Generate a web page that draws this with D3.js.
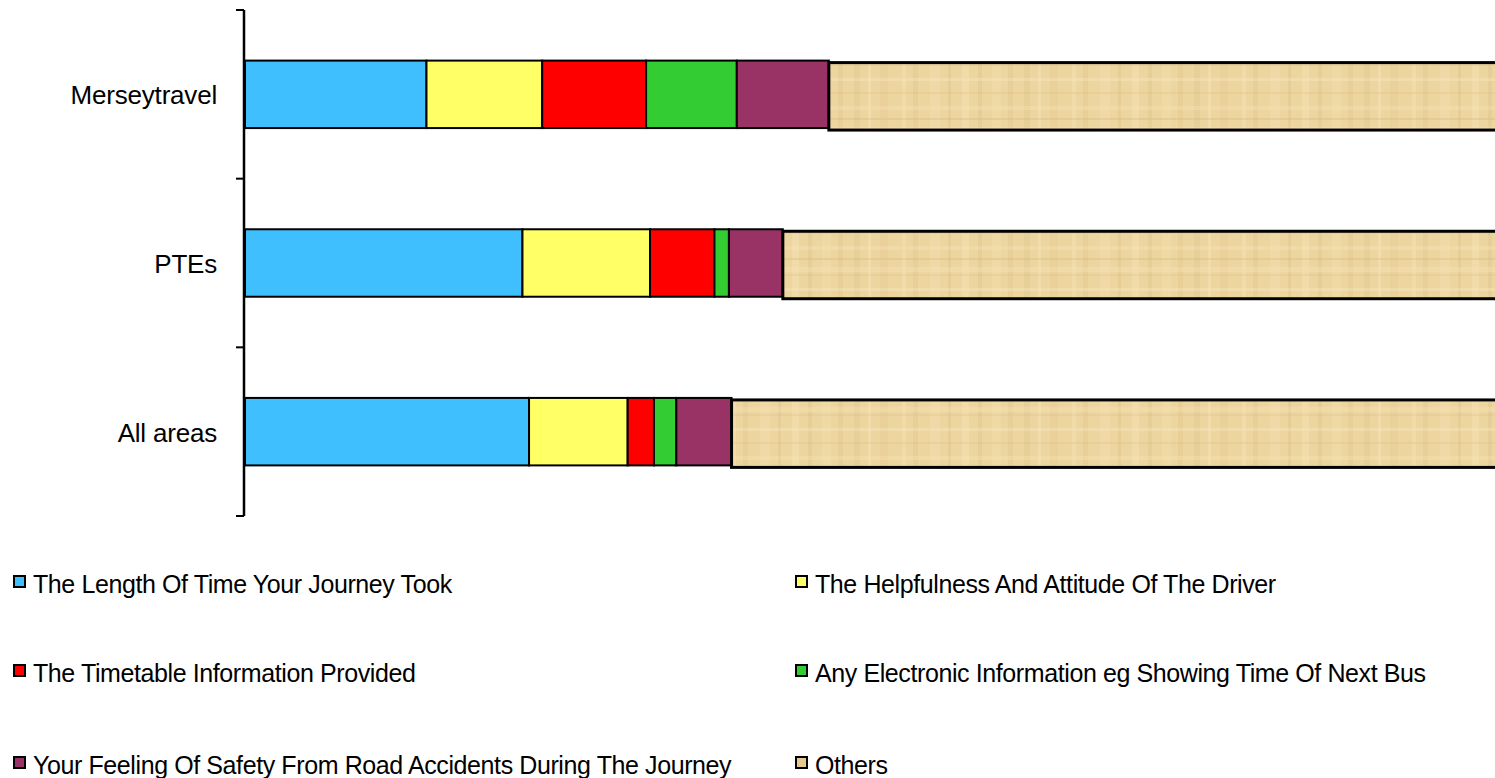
<!DOCTYPE html>
<html>
<head>
<meta charset="utf-8">
<script src="https://cdn.jsdelivr.net/npm/d3@7"></script>
<style>
  html, body { margin: 0; padding: 0; background: #fff; }
  svg { display: block; font-family: "Liberation Sans", Arial, sans-serif; }
</style>
</head>
<body>
<svg id="chart" width="1495" height="778"></svg>
<script>
// ---- data ----
const categories = ["Merseytravel", "PTEs", "All areas"];
const seriesNames = [
  "The Length Of Time Your Journey Took",
  "The Helpfulness And Attitude Of The Driver",
  "The Timetable Information Provided",
  "Any Electronic Information eg Showing Time Of Next Bus",
  "Your Feeling Of Safety From Road Accidents During The Journey",
  "Others"
];
const lengthOfTime   = [13.8, 21.1, 21.6];
const helpfulness    = [8.8, 9.7, 7.5];
const timetable      = [7.9, 4.9, 2.0];
const electronic     = [6.9, 1.1, 1.7];
const safety         = [7.0, 4.1, 4.2];
const others         = [55.6, 59.1, 63.0];
const seriesValues = [lengthOfTime, helpfulness, timetable, electronic, safety, others];
const seriesColors = ["#40BFFF", "#FFFF66", "#FF0000", "#33CC33", "#993366", "url(#papyrus)"];
const legendSwatch = ["#40BFFF", "#FFFF66", "#FF0000", "#33CC33", "#993366", "#E6C98F"];

// ---- layout ----
const svg = d3.select("#chart");
const plotLeft = 245, plotTop = 10, plotBottom = 516;

const x = d3.scaleLinear().domain([0, 100]).range([plotLeft, 1560]);
const y = d3.scaleBand().domain(categories).range([plotTop, plotBottom])
  .paddingInner(0.6).paddingOuter(0.3);

// papyrus-like texture (decorative)
const defs = svg.append("defs");
const pat = defs.append("pattern").attr("id", "papyrus")
  .attr("patternUnits", "userSpaceOnUse").attr("width", 170).attr("height", 70);
pat.append("rect").attr("width", 170).attr("height", 70).attr("fill", "#EDD5A0");
const vStripes = [[4,6,"#DCC08A",0.3],[18,3,"#F7E4B6",0.5],[30,8,"#DEC28C",0.25],[52,4,"#F5E2B3",0.45],
  [63,5,"#D8BB82",0.25],[80,10,"#F4DFAE",0.4],[98,3,"#D9BC84",0.3],[112,7,"#F6E3B5",0.45],
  [128,4,"#DABE86",0.3],[142,9,"#F3DEAC",0.4],[158,5,"#D8BA80",0.25]];
vStripes.forEach(s => pat.append("rect").attr("x", s[0]).attr("y", 0).attr("width", s[1])
  .attr("height", 70).attr("fill", s[2]).attr("opacity", s[3]));
const hStripes = [[8,3,"#F8E7BC",0.4],[22,2,"#D6B97F",0.25],[36,4,"#F6E3B4",0.35],[48,2,"#D3B47A",0.3],
  [57,5,"#F5E1B1",0.4],[64,2,"#D9BC84",0.25]];
hStripes.forEach(s => pat.append("rect").attr("x", 0).attr("y", s[0]).attr("width", 170)
  .attr("height", s[1]).attr("fill", s[2]).attr("opacity", s[3]));

// stacked data
const rows = categories.map((c, i) => {
  const o = { category: c };
  seriesNames.forEach((s, j) => o[s] = seriesValues[j][i]);
  return o;
});
const stacked = d3.stack().keys(seriesNames)(rows);

const groups = svg.append("g").selectAll("g").data(stacked).join("g")
  .attr("fill", (d, i) => seriesColors[i]);
groups.each(function(series, si) {
  const isOthers = si === seriesNames.length - 1;
  d3.select(this).selectAll("rect").data(series).join("rect")
    .attr("x", d => x(d[0]))
    .attr("y", d => y(d.data.category) + (isOthers ? 2 : 0))
    .attr("width", d => x(d[1]) - x(d[0]))
    .attr("height", y.bandwidth())
    .attr("stroke", "#000")
    .attr("stroke-width", isOthers ? 3 : 2);
});

// y axis
const axisG = svg.append("g").attr("transform", `translate(${plotLeft - 1},0)`);
const tickYs = [plotTop].concat(categories.map(c => y(c) + y.bandwidth() + y.step() * y.paddingInner() / 2));
tickYs[tickYs.length - 1] = plotBottom;
axisG.append("line").attr("x1", 0).attr("x2", 0).attr("y1", plotTop).attr("y2", plotBottom)
  .attr("stroke", "#000").attr("stroke-width", 2.5);
axisG.selectAll("line.tick").data(tickYs).join("line").attr("class", "tick")
  .attr("x1", -8).attr("x2", 0).attr("y1", d => d).attr("y2", d => d)
  .attr("stroke", "#000").attr("stroke-width", 2);
axisG.selectAll("text").data(categories).join("text")
  .attr("x", -27).attr("y", d => y(d) + y.bandwidth() / 2 + 10)
  .attr("text-anchor", "end").attr("font-size", 26).attr("letter-spacing", -0.2).attr("fill", "#000")
  .text(d => d);

// legend
const legendCols = [13, 795];
const legendRows = [575, 664, 756];
const legend = svg.append("g").selectAll("g").data(seriesNames).join("g")
  .attr("transform", (d, i) => `translate(${legendCols[i % 2]},${legendRows[Math.floor(i / 2)]})`);
legend.append("rect").attr("x", 1).attr("y", 1).attr("width", 11).attr("height", 11)
  .attr("fill", (d, i) => legendSwatch[i]).attr("stroke", "#000").attr("stroke-width", 2);
legend.append("text").attr("x", 20).attr("y", 18)
  .attr("font-size", 25).attr("letter-spacing", -0.4).attr("fill", "#000").text(d => d);
</script>
</body>
</html>
